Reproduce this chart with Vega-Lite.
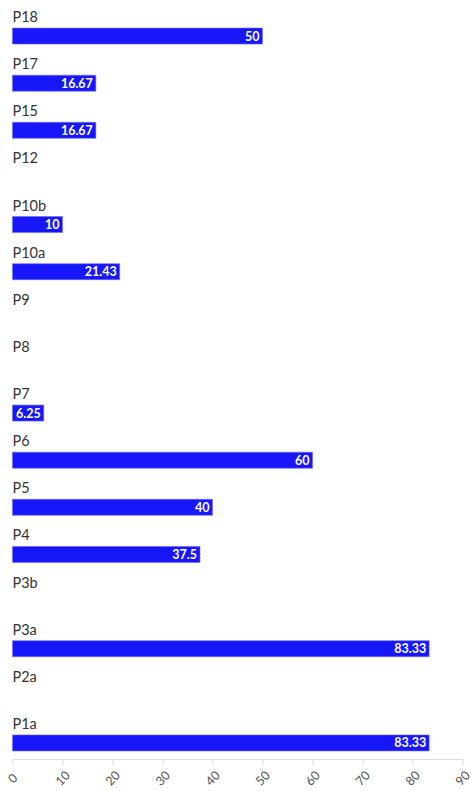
{
  "$schema": "https://vega.github.io/schema/vega-lite/v6.json",
  "width": 450,
  "height": 754,
  "autosize": "none",
  "padding": {"left": 12.5, "top": 5, "right": 8.5, "bottom": 32},
  "background": "white",
  "config": {"view": {"stroke": null}, "font": "Lato"},
  "data": {"values": [
    {"cat": "P18", "value": 50},
    {"cat": "P17", "value": 16.67},
    {"cat": "P15", "value": 16.67},
    {"cat": "P12", "value": 0},
    {"cat": "P10b", "value": 10},
    {"cat": "P10a", "value": 21.43},
    {"cat": "P9", "value": 0},
    {"cat": "P8", "value": 0},
    {"cat": "P7", "value": 6.25},
    {"cat": "P6", "value": 60},
    {"cat": "P5", "value": 40},
    {"cat": "P4", "value": 37.5},
    {"cat": "P3b", "value": 0},
    {"cat": "P3a", "value": 83.33},
    {"cat": "P2a", "value": 0},
    {"cat": "P1a", "value": 83.33}
  ]},
  "encoding": {
    "y": {"field": "cat", "type": "nominal", "sort": null, "axis": null,
      "scale": {"domain": ["P18","P17","P15","P12","P10b","P10a","P9","P8","P7","P6","P5","P4","P3b","P3a","P2a","P1a"], "paddingInner": 0, "paddingOuter": 0}}
  },
  "layer": [
    {
      "transform": [{"filter": "datum.value > 0"}],
      "mark": {"type": "bar", "height": 16, "yOffset": 7.5, "color": "#1717fa", "stroke": "#6a6aff", "strokeWidth": 0.6},
      "encoding": {
        "x": {"field": "value", "type": "quantitative", "scale": {"domain": [0, 90], "nice": false},
          "axis": {"values": [0,10,20,30,40,50,60,70,80,90], "title": null, "grid": false, "labelAngle": -45, "labelAlign": "center", "labelBaseline": "middle", "labelPadding": 13, "labelDx": -1, "labelFontSize": 12.5, "labelColor": "#555555", "domainColor": "#dddddd", "tickColor": "#dddddd", "tickSize": 6, "labelBound": false, "labelOverlap": false}}
      }
    },
    {
      "mark": {"type": "text", "align": "left", "baseline": "middle", "yOffset": -10.5, "fontSize": 14.5, "color": "#333333"},
      "encoding": {
        "x": {"datum": 0, "type": "quantitative"},
        "text": {"field": "cat"}
      }
    },
    {
      "transform": [{"filter": "datum.value > 0"}],
      "mark": {"type": "text", "align": "right", "baseline": "middle", "dx": -3, "yOffset": 8, "fontSize": 12.5, "fontWeight": "bold", "color": "white"},
      "encoding": {
        "x": {"field": "value", "type": "quantitative"},
        "text": {"field": "value"}
      }
    }
  ]
}
